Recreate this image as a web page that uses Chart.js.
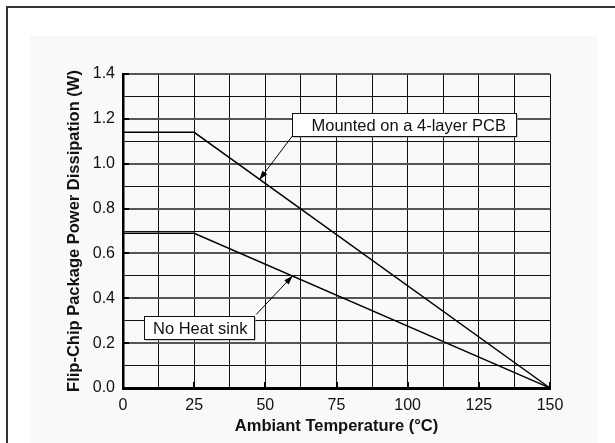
<!DOCTYPE html>
<html>
<head>
<meta charset="utf-8">
<script src="https://cdn.jsdelivr.net/npm/chart.js@4"></script>
<style>
  html, body { margin: 0; padding: 0; background: #ffffff; }
  #wrap { width: 615px; height: 443px; }
</style>
</head>
<body>
<div id="wrap"><canvas id="c" width="615" height="443"></canvas></div>
<script>
// ---- data ----
const temps = [0, 25, 150];
const pcbPower = [1.14, 1.14, 0];
const noSinkPower = [0.69, 0.69, 0];
const xLabels = ['0', '25', '50', '75', '100', '125', '150'];
const yLabels = ['0.0', '0.2', '0.4', '0.6', '0.8', '1.0', '1.2', '1.4'];
const seriesNames = ['Mounted on a 4-layer PCB', 'No Heat sink'];
const xTitle = 'Ambiant Temperature (\u00B0C)';
const yTitle = 'Flip-Chip Package Power Dissipation (W)';

const FONT = '"Liberation Sans", Arial, Helvetica, sans-serif';

const toPts = (xs, ys) => xs.map((x, i) => ({ x: x, y: ys[i] }));

// background + frame plugin
const bgPlugin = {
  id: 'bg',
  beforeDraw(chart) {
    const ctx = chart.ctx;
    ctx.save();
    ctx.fillStyle = '#ffffff';
    ctx.fillRect(0, 0, chart.width, chart.height);
    ctx.fillStyle = '#f9f9f7';
    ctx.fillRect(30, 36, 568, chart.height - 36);
    ctx.strokeStyle = '#333333';
    ctx.lineWidth = 2;
    ctx.beginPath();
    ctx.moveTo(7, chart.height);
    ctx.lineTo(7, 7);
    ctx.lineTo(chart.width, 7);
    ctx.stroke();
    ctx.restore();
  }
};

// inner tick marks at labelled values
const innerTicksPlugin = {
  id: 'innerTicks',
  afterDraw(chart) {
    const ctx = chart.ctx;
    const xs = chart.scales.x, ys = chart.scales.y;
    const a = chart.chartArea;
    ctx.save();
    ctx.strokeStyle = '#000';
    ctx.lineWidth = 2;
    ctx.beginPath();
    xLabels.forEach(l => {
      const px = Math.round(xs.getPixelForValue(Number(l)));
      ctx.moveTo(px, a.bottom);
      ctx.lineTo(px, a.bottom - 6);
    });
    yLabels.forEach(l => {
      const py = Math.round(ys.getPixelForValue(Number(l)));
      ctx.moveTo(a.left, py);
      ctx.lineTo(a.left + 6, py);
    });
    ctx.stroke();
    ctx.restore();
  }
};

// callouts (box + arrow), positioned in data coordinates
const calloutPlugin = {
  id: 'callouts',
  afterDatasetsDraw(chart, args, opts) {
    const ctx = chart.ctx;
    const xs = chart.scales.x, ys = chart.scales.y;
    ctx.save();
    ctx.font = '16.5px ' + FONT;
    opts.items.forEach(it => {
      const left = xs.getPixelForValue(it.box[0]);
      const top = ys.getPixelForValue(it.box[1]);
      const right = xs.getPixelForValue(it.box[2]);
      const bottom = ys.getPixelForValue(it.box[3]);
      // arrow
      const ax = xs.getPixelForValue(it.from[0]), ay = ys.getPixelForValue(it.from[1]);
      const bx = xs.getPixelForValue(it.to[0]), by = ys.getPixelForValue(it.to[1]);
      ctx.strokeStyle = '#000';
      ctx.fillStyle = '#000';
      ctx.lineWidth = 1;
      ctx.beginPath();
      ctx.moveTo(ax, ay);
      ctx.lineTo(bx, by);
      ctx.stroke();
      const ang = Math.atan2(by - ay, bx - ax);
      const L = 9, W = 3;
      ctx.beginPath();
      ctx.moveTo(bx, by);
      ctx.lineTo(bx - L * Math.cos(ang) + W * Math.sin(ang), by - L * Math.sin(ang) - W * Math.cos(ang));
      ctx.lineTo(bx - L * Math.cos(ang) - W * Math.sin(ang), by - L * Math.sin(ang) + W * Math.cos(ang));
      ctx.closePath();
      ctx.fill();
      // box with slight shadow
      const L0 = Math.round(left) + 0.5, T0 = Math.round(top) + 0.5;
      const w = Math.round(right - left), h = Math.round(bottom - top);
      ctx.fillStyle = '#9a9a9a';
      ctx.fillRect(L0 + 1, T0 + 1, w, h);
      ctx.fillStyle = '#ffffff';
      ctx.fillRect(L0, T0, w, h);
      ctx.strokeStyle = '#111';
      ctx.strokeRect(L0, T0, w, h);
      ctx.fillStyle = '#111';
      ctx.textAlign = 'left';
      ctx.textBaseline = 'middle';
      ctx.fillText(it.text, L0 + it.pad, T0 + h / 2 + 1);
    });
    ctx.restore();
  }
};

new Chart(document.getElementById('c'), {
  type: 'line',
  data: {
    datasets: [
      { label: seriesNames[0], data: toPts(temps, pcbPower), borderColor: '#000', borderWidth: 1.4, pointRadius: 0, tension: 0, fill: false },
      { label: seriesNames[1], data: toPts(temps, noSinkPower), borderColor: '#000', borderWidth: 1.4, pointRadius: 0, tension: 0, fill: false }
    ]
  },
  options: {
    responsive: false,
    animation: false,
    events: [],
    layout: { padding: { left: 0, top: 74, right: 65, bottom: 0 } },
    plugins: {
      legend: { display: false },
      tooltip: { enabled: false },
      callouts: {
        items: [
          { text: seriesNames[0], pad: 19, box: [59.3, 1.227, 138.0, 1.125], from: [59.6, 1.125], to: [47.9, 0.929] },
          { text: seriesNames[1], pad: 8.5, box: [7.5, 0.322, 46.2, 0.218], from: [46.8, 0.328], to: [59.6, 0.500] }
        ]
      }
    },
    scales: {
      x: {
        type: 'linear',
        min: 0, max: 150,
        afterFit(s) { s.height = 55; },
        afterBuildTicks(s) {
          const t = [];
          for (let v = 0; v <= 150; v += 12.5) t.push({ value: v });
          s.ticks = t;
        },
        border: { display: true, color: '#000', width: 3 },
        grid: {
          drawTicks: false,
          color: '#111',
          lineWidth: 1
        },
        ticks: {
          autoSkip: false,
          maxRotation: 0,
          padding: 8,
          color: '#111',
          font: { family: FONT, size: 16 },
          callback(v) { const i = xLabels.indexOf(String(v)); return i >= 0 ? xLabels[i] : ''; }
        },
        title: {
          display: true,
          text: xTitle,
          color: '#111',
          font: { family: FONT, size: 16.5, weight: 'bold' },
          padding: { top: 0, bottom: 7 }
        }
      },
      y: {
        type: 'linear',
        min: 0, max: 1.4,
        afterFit(s) { s.width = 123; },
        afterBuildTicks(s) {
          const t = [];
          for (let i = 0; i <= 14; i++) t.push({ value: i / 10 });
          s.ticks = t;
        },
        border: { display: true, color: '#000', width: 2.5 },
        grid: {
          drawTicks: false,
          color(ctx) { return (ctx.tick && Math.round(ctx.tick.value * 10) % 2 === 0) ? '#555' : '#111'; },
          lineWidth(ctx) { return (ctx.tick && Math.round(ctx.tick.value * 10) % 2 === 0) ? 2 : 1; }
        },
        ticks: {
          autoSkip: false,
          padding: 8,
          color: '#111',
          font: { family: FONT, size: 16 },
          callback(v) {
            const s = v.toFixed(1);
            return yLabels.indexOf(s) >= 0 && Math.round(v * 10) % 2 === 0 ? s : '';
          }
        },
        title: {
          display: true,
          text: yTitle,
          color: '#111',
          font: { family: FONT, size: 16.5, weight: 'bold' },
          padding: { top: 65, bottom: 0 }
        }
      }
    }
  },
  plugins: [bgPlugin, innerTicksPlugin, calloutPlugin]
});
</script>
</body>
</html>
